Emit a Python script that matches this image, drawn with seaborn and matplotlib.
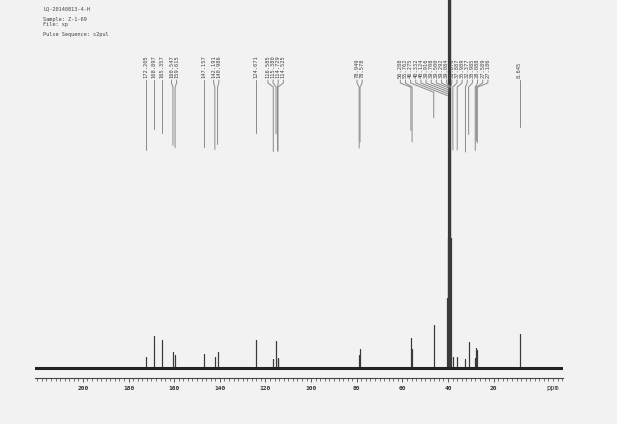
import pandas as pd
import seaborn as sns
import matplotlib.pyplot as plt
from matplotlib.ticker import FixedLocator, MultipleLocator

# header block printed by the spectrometer
header_lines = ["LQ-20140813-4-H", "", "Sample: Z-1-69", "File: xp", "", "Pulse Sequence: s2pul"]

# picked peaks (ppm) and their heights above baseline
shifts = [172.205, 168.897, 165.357, 160.547, 159.615, 147.157, 142.191, 140.986,
          124.071, 116.585, 115.380, 114.729, 114.525, 78.949, 78.578,
          56.288, 55.762, 46.275, 40.332, 40.124, 39.916, 39.708, 39.500, 39.292,
          39.084, 38.876, 37.887, 35.989, 32.377, 30.985, 28.088, 27.589, 27.186, 8.645]
heights = [10.7, 31.7, 28.3, 15.7, 13.3, 14.3, 11.5, 16.5,
           27.7, 9.5, 27.0, 10.5, 9.5, 13.0, 19.0,
           30.5, 19.0, 43.3, 70, 130, 500, 900, 1000, 900,
           500, 130, 11.0, 11.0, 9.0, 26.5, 10.5, 20.0, 18.0, 34.3]
peak_labels = ["%.3f" % s for s in shifts]

ppm_left, ppm_right = 221.0, -10.5
tick_values = list(range(20, 201, 20))

W, H = 617, 424
bg = "#f2f2f2"
mono = "DejaVu Sans Mono"

sns.set_style("white")

fig = plt.figure(figsize=(W / 100, H / 100), dpi=100)
fig.patch.set_facecolor(bg)
ax = fig.add_axes([35 / W, 46 / H, 528.3 / W, 378 / H])
ax.set_facecolor(bg)

# stick spectrum
rows = [(ppm_left, 0.0)]
for s, h in zip(shifts, heights):
    rows += [(s, 0.0), (s, h), (s, 0.0)]
rows.append((ppm_right, 0.0))
spec = pd.DataFrame(rows, columns=["ppm", "intensity"])
sns.lineplot(data=spec, x="ppm", y="intensity", sort=False, estimator=None,
             color="#3a3a3a", lw=0.8, ax=ax)
ax.axhline(0, color="#222222", lw=2.2, zorder=3)

ax.set_xlim(ppm_left, ppm_right)
ax.set_ylim(-10, 368)

# label layout: spread overlapping labels around the middle of each cluster
px_per_ppm = 528.3 / (ppm_left - ppm_right)
gap = 5.15 / px_per_ppm


def spread(pos, gap):
    groups = [[i] for i in range(len(pos))]

    def slots(g):
        mid = (pos[g[0]] + pos[g[-1]]) / 2
        n = len(g)
        return [mid + gap * ((n - 1) / 2 - k) for k in range(n)]

    merged = True
    while merged:
        merged = False
        for j in range(len(groups) - 1):
            if slots(groups[j])[-1] - slots(groups[j + 1])[0] < gap:
                groups[j] = groups[j] + groups.pop(j + 1)
                merged = True
                break
    out = []
    for g in groups:
        out += slots(g)
    return out


slot_x = spread(shifts, gap)
for sx, s, h, lab in zip(slot_x, shifts, heights, peak_labels):
    dx = abs(sx - s) * px_per_ppm
    y2 = 285 - max(4, 0.4 * dx)
    y3 = min(h + 207, y2)
    ax.plot([sx, sx, s, s], [288, 285, y2, y3], color="#8a8a8a", lw=0.7)
    ax.text(sx, 290, lab, rotation=90, ha="center", va="bottom",
            fontsize=3.9, family=mono, color="#444444")

# axis styling
for side in ["left", "top", "right"]:
    ax.spines[side].set_visible(False)
ax.spines["bottom"].set_color("#444444")
ax.spines["bottom"].set_linewidth(0.8)
ax.xaxis.set_major_locator(FixedLocator(tick_values))
ax.xaxis.set_minor_locator(MultipleLocator(2))
ax.set_xticklabels([str(v) for v in tick_values])
ax.tick_params(axis="x", which="both", bottom=True)
ax.tick_params(axis="x", which="major", direction="out", length=3, width=0.6,
               color="#444444", pad=2.5, labelsize=4.5, labelcolor="#333333")
ax.tick_params(axis="x", which="minor", direction="out", length=2, width=0.5,
               color="#444444")
for t in ax.get_xticklabels():
    t.set_family(mono)
    t.set_fontweight("bold")
ax.set_yticks([])
ax.set_ylabel("")
ax.set_xlabel("ppm", fontsize=5, family=mono, color="#333333")
ax.xaxis.set_label_coords((553 - 35) / 528.3, -10 / 378)
ax.xaxis.label.set_va("center")

for i, line in enumerate(header_lines):
    fig.text(43 / W, 1 - (9.3 + 5 * i) / H, line, fontsize=3.8, family=mono,
             color="#444444", va="center", ha="left")

fig.savefig("out.png", dpi=100, facecolor=bg)
